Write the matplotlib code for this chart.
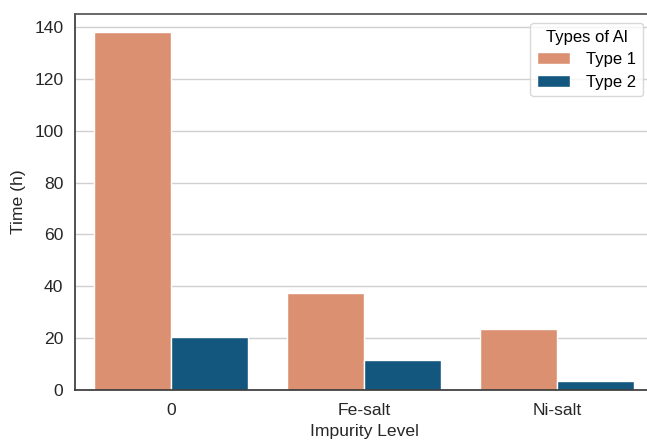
import matplotlib
matplotlib.use("Agg")
import matplotlib.pyplot as plt
import numpy as np

categories = ["0", "Fe-salt", "Ni-salt"]
series_names = ["Type 1", "Type 2"]
type1_hours = [138, 37.5, 23.6]
type2_hours = [20.6, 11.5, 3.5]
yticks = [0, 20, 40, 60, 80, 100, 120, 140]

plt.rcParams["font.family"] = ["Liberation Sans", "DejaVu Sans"]

colors = ["#db9072", "#13577f"]
fs = 12.6

fig = plt.figure(figsize=(6.47, 4.40), dpi=100)
# axes run slightly past the right edge of the canvas
ax = fig.add_axes([74.5 / 647, 50 / 440, 579 / 647, 376 / 440])

x = np.arange(len(categories))
group_width = 0.8
bw = group_width / 2
for i, (name, vals) in enumerate(zip(series_names, [type1_hours, type2_hours])):
    offs = -group_width / 2 + bw * (i + 0.5)
    ax.bar(x + offs, vals, width=bw, color=colors[i], edgecolor="white",
           linewidth=1.0, label=name, zorder=2)

ax.set_xlim(-0.5, 2.5)
ax.set_ylim(0, 145)
ax.set_xticks(x)
ax.set_xticklabels(categories)
ax.set_yticks(yticks)
ax.tick_params(axis="both", length=0, labelsize=fs, colors="#262626")
ax.tick_params(axis="x", pad=9)
ax.tick_params(axis="y", pad=8)
ax.yaxis.grid(True, color="#d0d0d0", linewidth=1.0, zorder=0)
ax.set_axisbelow(True)

for side in ["top", "left", "bottom"]:
    ax.spines[side].set_color("#3a3a3a")
    ax.spines[side].set_linewidth(1.25)
ax.spines["top"].set_color("#555555")
ax.spines["right"].set_visible(False)

ax.set_xlabel("Impurity Level", fontsize=fs, color="#262626", labelpad=5)
ax.set_ylabel("Time (h)", fontsize=fs, color="#262626", labelpad=6)

leg = ax.legend(title="Types of Al", fontsize=12, title_fontsize=12,
                loc="upper right", bbox_to_anchor=(643 / 647, 417 / 440),
                bbox_transform=fig.transFigure,
                frameon=True, fancybox=True, edgecolor="#d0d0d0",
                borderpad=0.4, borderaxespad=0.0, handlelength=2.0,
                handletextpad=0.95, labelspacing=0.45)
leg.get_frame().set_linewidth(1.0)

fig.savefig("out.png", dpi=100)
